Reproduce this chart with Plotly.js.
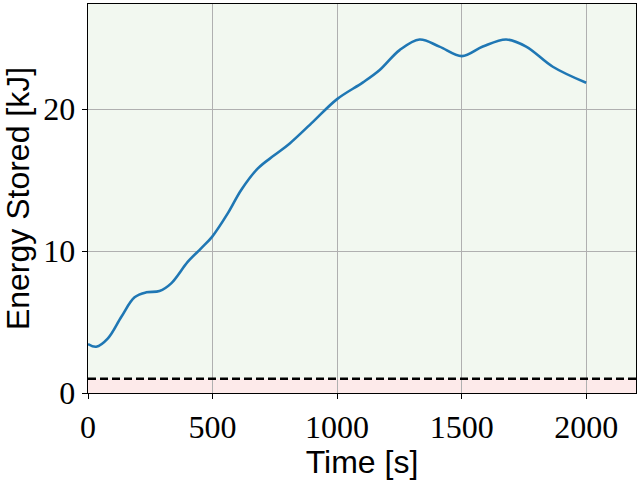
<!DOCTYPE html>
<html lang="en">
<head>
    <meta charset="UTF-8">
    <script src="https://cdn.plot.ly/plotly-3.0.1.min.js"></script>
    <style>
        html, body, #plot {
            width: 640px;
            height: 480px;
            margin: 0;
            padding: 0;
            overflow: hidden;
        }
    </style>
</head>
<body>
<div id="plot"></div>
<script>
    // values
    const time = [0, 33, 80, 134, 187, 234, 287, 334, 401, 454, 498, 561, 615, 682, 749, 810, 903,
        1000, 1104, 1171, 1251, 1331, 1411, 1501, 1585, 1679, 1759, 1866, 2000];
    const energy = [3.45, 3.26, 3.85, 5.37, 6.74, 7.09, 7.18, 7.72, 9.25, 10.19, 11.0, 12.65, 14.3, 15.82, 16.76, 17.58, 19.1,
        20.7, 21.88, 22.75, 24.15, 24.9, 24.4, 23.73, 24.4, 24.9, 24.4, 22.98, 21.85];
    const threshold = 1;
    const xTicks = [0, 500, 1000, 1500, 2000];
    const yTicks = [0, 10, 20];
    const xMax = 2200;
    const yMax = 27.4;

    const curve = {
        x: time,
        y: energy,
        type: 'scatter',
        mode: 'lines',
        line: {color: '#1f77b4', width: 2.6, shape: 'spline', smoothing: 1},
        hoverinfo: 'skip',
        showlegend: false
    };

    const tickFont = {family: 'Liberation Serif, serif', size: 32, color: '#000000'};
    const titleFont = {family: 'Liberation Sans, sans-serif', size: 32, color: '#000000'};

    const layout = {
        width: 640,
        height: 480,
        margin: {l: 88, r: 4, t: 4, b: 87, pad: 0},
        paper_bgcolor: '#ffffff',
        plot_bgcolor: '#ffffff',
        showlegend: false,
        xaxis: {
            range: [0, xMax],
            tickvals: xTicks,
            ticktext: xTicks.map(String),
            tickfont: tickFont,
            ticks: 'outside',
            ticklen: 5,
            tickcolor: '#000000',
            showgrid: true,
            gridcolor: '#b0b0b0',
            gridwidth: 1,
            zeroline: false,
            showline: true,
            linecolor: '#000000',
            linewidth: 1.3,
            mirror: true,
            automargin: false,
            title: {text: 'Time [s]', font: titleFont, standoff: 6}
        },
        yaxis: {
            range: [0, yMax],
            tickvals: yTicks,
            ticktext: yTicks.map(String),
            tickfont: tickFont,
            ticks: 'outside',
            ticklen: 5,
            tickcolor: '#000000',
            showgrid: true,
            gridcolor: '#b0b0b0',
            gridwidth: 1,
            zeroline: false,
            showline: true,
            linecolor: '#000000',
            linewidth: 1.3,
            mirror: true,
            automargin: false,
            title: {text: 'Energy Stored [kJ]', font: titleFont, standoff: 8}
        },
        shapes: [
            // green zone above the threshold, red zone below it
            {
                type: 'rect', xref: 'paper', yref: 'y',
                x0: 0, x1: 1, y0: threshold, y1: yMax,
                fillcolor: '#f2f8f0', line: {width: 0}, layer: 'below'
            },
            {
                type: 'rect', xref: 'paper', yref: 'y',
                x0: 0, x1: 1, y0: 0, y1: threshold,
                fillcolor: '#fdeaea', line: {width: 0}, layer: 'below'
            },
            {
                type: 'line', xref: 'paper', yref: 'y',
                x0: 0, x1: 1, y0: threshold, y1: threshold,
                line: {color: '#000000', width: 2.5, dash: '8px,4px'}
            }
        ]
    };

    Plotly.newPlot('plot', [curve], layout, {displayModeBar: false, staticPlot: true});
</script>
</body>
</html>
